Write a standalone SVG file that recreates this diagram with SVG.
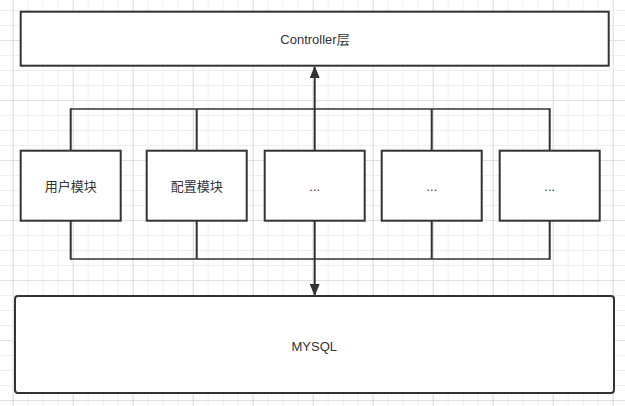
<svg xmlns="http://www.w3.org/2000/svg" width="625" height="406" viewBox="0 0 625 406">
<defs>
<pattern id="minor" x="12.7" y="10" width="15" height="15" patternUnits="userSpaceOnUse">
<path d="M0.5 0 V15 M0 0.5 H15" fill="none" stroke="#efefef" stroke-width="1"/>
</pattern>
<pattern id="major" x="12.7" y="40" width="60" height="60" patternUnits="userSpaceOnUse">
<path d="M0.5 0 V60 M0 0.5 H60" fill="none" stroke="#e0e0e0" stroke-width="1"/>
</pattern>
<marker id="arr" viewBox="0 0 12 10" refX="11" refY="5" markerWidth="12" markerHeight="10" markerUnits="userSpaceOnUse" orient="auto">
<path d="M0 0 L12 5 L0 10 Z" fill="#333"/>
</marker>
</defs>
<style>
.box{fill:#fff;stroke:#333;stroke-width:2}
.lbl{font-family:"Liberation Sans","Noto Sans CJK SC",sans-serif;font-size:13px;fill:#333;text-anchor:middle}
.ln{fill:none;stroke:#333;stroke-width:2}
.bus{fill:none;stroke:#333;stroke-width:1.5}
</style>
<rect width="625" height="406" fill="#fff"/>
<rect width="625" height="406" fill="url(#minor)"/>
<rect width="625" height="406" fill="url(#major)"/>

<g id="connectors">
<path class="bus" d="M70.7 109 H549.7"/>
<path class="bus" d="M70.7 259 H549.7"/>
<path class="ln" d="M70.7 150.7 V108.3 M196.7 150.7 V109 M431.7 150.7 V109 M549.7 150.7 V108.3"/>
<path class="ln" d="M70.7 220.7 V259.7 M196.7 220.7 V259 M431.7 220.7 V259 M549.7 220.7 V259.7"/>
<path class="ln" d="M314.7 150.7 V67" marker-end="url(#arr)"/>
<path class="ln" d="M314.7 220.7 V295" marker-end="url(#arr)"/>
</g>

<g id="controller">
<rect class="box" x="20.7" y="11.7" width="588" height="54"/>
<text class="lbl" x="315" y="43.5">Controller层</text>
</g>
<g id="user-module">
<rect class="box" x="20.7" y="150.7" width="100" height="70"/>
<text class="lbl" x="70.7" y="191">用户模块</text>
</g>
<g id="config-module">
<rect class="box" x="146.7" y="150.7" width="100" height="70"/>
<text class="lbl" x="196.7" y="191">配置模块</text>
</g>
<g id="module-3">
<rect class="box" x="264.7" y="150.7" width="100" height="70"/>
<text class="lbl" x="314.7" y="191">...</text>
</g>
<g id="module-4">
<rect class="box" x="381.7" y="150.7" width="100" height="70"/>
<text class="lbl" x="431.7" y="191">...</text>
</g>
<g id="module-5">
<rect class="box" x="499.7" y="150.7" width="100" height="70"/>
<text class="lbl" x="549.7" y="191">...</text>
</g>
<g id="mysql">
<rect class="box" x="15" y="296" width="599" height="97" rx="3" ry="3"/>
<text class="lbl" x="314.3" y="351">MYSQL</text>
</g>
</svg>
